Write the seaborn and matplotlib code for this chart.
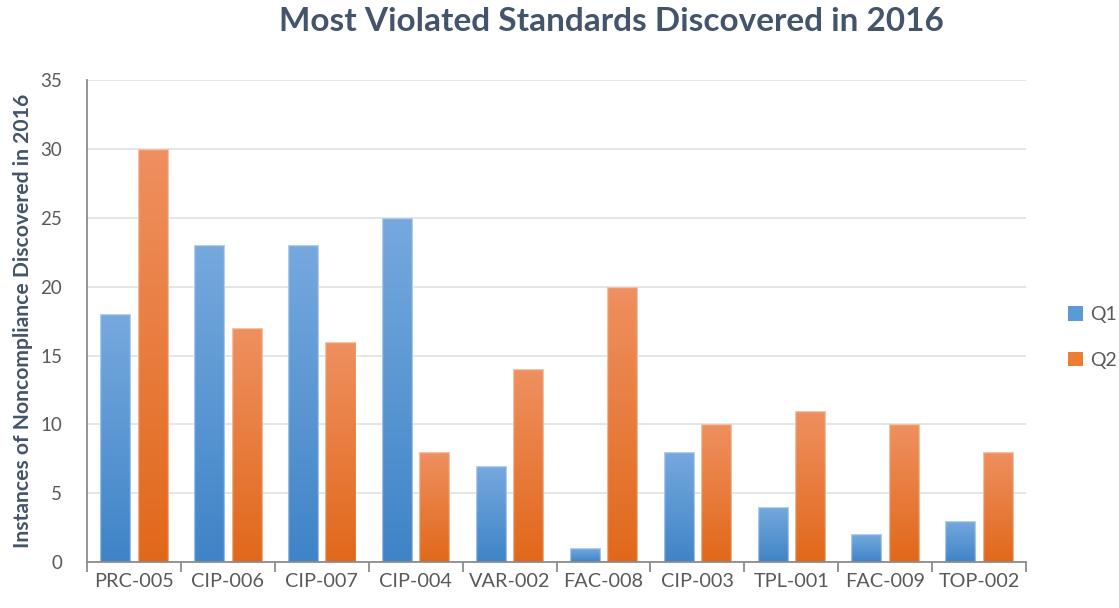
import numpy as np
import pandas as pd
import matplotlib
matplotlib.use("Agg")
import matplotlib.pyplot as plt
from matplotlib.colors import LinearSegmentedColormap
from matplotlib.ticker import FixedLocator
import seaborn as sns

categories = ["PRC-005", "CIP-006", "CIP-007", "CIP-004", "VAR-002",
              "FAC-008", "CIP-003", "TPL-001", "FAC-009", "TOP-002"]
q1 = [18, 23, 23, 25, 7, 1, 8, 4, 2, 3]
q2 = [30, 17, 16, 8, 14, 20, 10, 11, 10, 8]
series = ["Q1", "Q2"]
title = "Most Violated Standards Discovered in 2016"
ylabel = "Instances of Noncompliance Discovered in 2016"
yticks = [0, 5, 10, 15, 20, 25, 30, 35]

df = pd.DataFrame({
    "standard": categories * 2,
    "quarter": ["Q1"] * len(categories) + ["Q2"] * len(categories),
    "count": q1 + q2,
})

sns.set_theme(style="white")
plt.rcParams["font.family"] = ["Lato", "DejaVu Sans"]

text_gray = "#595959"
title_col = "#44546A"
base = {"Q1": "#5B9BD5", "Q2": "#ED7D31"}
grads = {"Q1": ("#76A9DE", "#3F84C7"), "Q2": ("#EF9060", "#E1681A")}

fig = plt.figure(figsize=(11.19, 6.08), dpi=100)
ax = fig.add_axes([0.0777, 0.0757, 0.917 - 0.0777, 0.868 - 0.0757])

sns.barplot(data=df, x="standard", y="count", hue="quarter", order=categories,
            hue_order=series, palette=base, width=0.8, gap=0.2, ax=ax,
            saturation=1, edgecolor="none", linewidth=0)

ax.set_ylim(0, 35)
ax.set_xlim(-0.5, len(categories) - 0.5)
ax.set_yticks(yticks)
ax.yaxis.grid(True, color="#DCE1E8", linewidth=1.2)
ax.set_axisbelow(True)

# gradients clipped to the bars
nb = len(categories)
for i, patch in enumerate(ax.patches[:2 * nb]):
    key = series[i // nb]
    top, bot = grads[key]
    cmap = LinearSegmentedColormap.from_list(key, [bot, top])
    x, y = patch.get_x(), patch.get_y()
    w, h = patch.get_width(), patch.get_height()
    if h <= 0:
        continue
    grad = np.linspace(0, 1, 256).reshape(-1, 1)
    im = ax.imshow(grad, cmap=cmap, aspect="auto", origin="lower",
                   extent=[x, x + w, y, y + h], zorder=patch.get_zorder() + 0.1,
                   interpolation="bilinear")
    im.set_clip_path(patch)
    ax.add_patch(plt.Rectangle((x, y), w, h, fill=False,
                               edgecolor=(1, 1, 1, 0.45), linewidth=1.0,
                               zorder=patch.get_zorder() + 0.2))
ax.set_xlim(-0.5, len(categories) - 0.5)
ax.set_ylim(0, 35)

for s in ["top", "right"]:
    ax.spines[s].set_visible(False)
for s in ["left", "bottom"]:
    ax.spines[s].set_color("#8C8C8C")
    ax.spines[s].set_linewidth(1.3)

ax.xaxis.set_minor_locator(FixedLocator(np.arange(-0.5, len(categories), 1.0)))
ax.tick_params(axis="x", which="minor", direction="out", length=7,
               color="#8C8C8C", width=1.3, bottom=True)
ax.tick_params(axis="x", which="major", length=0, pad=8,
               labelsize=14.3, labelcolor=text_gray)
ax.tick_params(axis="y", length=0, pad=18, labelsize=13.5, labelcolor=text_gray)

ax.set_xlabel("")
ax.set_ylabel(ylabel, fontsize=15.2, fontweight="bold", color=title_col, labelpad=5)
fig.text(0.546, 0.964, title, ha="center", va="center", fontsize=24,
         fontweight="bold", color=title_col)

sns.move_legend(ax, "center left", bbox_to_anchor=(1.026, 0.466), frameon=False,
                title=None, fontsize=14, handlelength=0.75, handleheight=0.75,
                handletextpad=0.4, labelspacing=1.45)
for t in ax.get_legend().get_texts():
    t.set_color(text_gray)

fig.savefig("out.png", dpi=100)
